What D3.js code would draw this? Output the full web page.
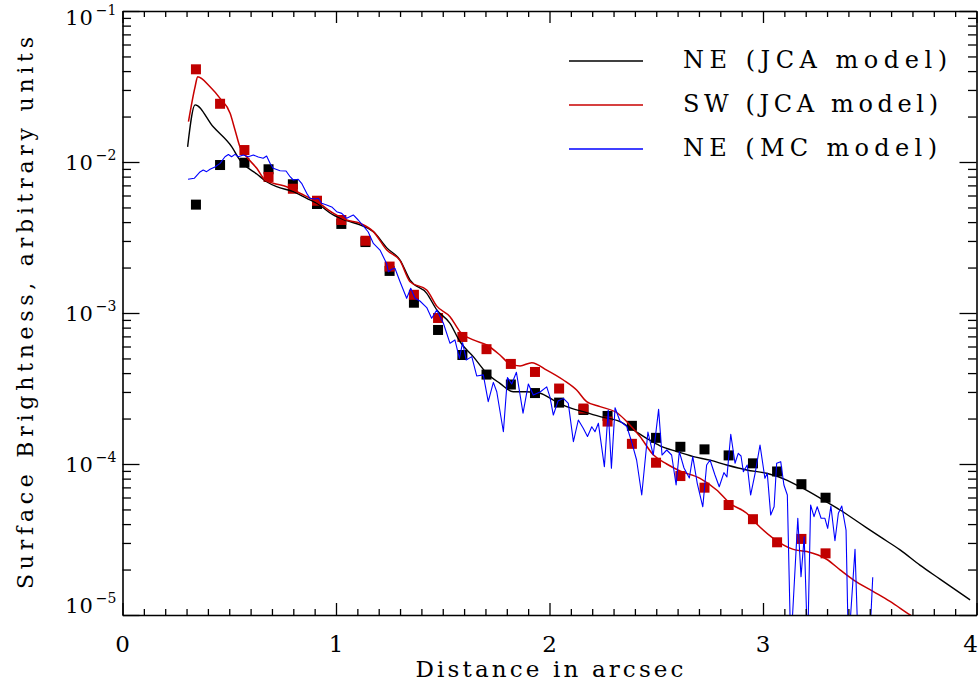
<!DOCTYPE html>
<html>
<head>
<meta charset="utf-8">
<script src="https://cdn.jsdelivr.net/npm/d3@7"></script>
<style>
	body { margin: 0; background: #fff; }
	svg { display: block; font-family: 'DejaVu Serif', 'Liberation Serif', serif; }
</style>
</head>
<body>
<svg id="chart"></svg>
<script>
/* global d3 */

// Radii (arcsec) of the measured profile points
const squareRadius = [ 0.344, 0.457, 0.571, 0.684, 0.798, 0.911, 1.025, 1.138, 1.251, 1.365, 1.478, 1.592, 1.705, 1.819, 1.932, 2.045, 2.159, 2.272, 2.386, 2.499, 2.613, 2.726, 2.839, 2.953, 3.066, 3.180, 3.293 ];

// Measured surface brightness, NE and SW sides
const neObserved = [ 5.22e-3, 9.55e-3, 9.89e-3, 8.95e-3, 7.12e-3, 5.27e-3, 3.89e-3, 2.95e-3, 1.90e-3, 1.17e-3, 7.72e-4, 5.27e-4, 3.91e-4, 3.36e-4, 2.95e-4, 2.55e-4, 2.28e-4, 2.08e-4, 1.79e-4, 1.49e-4, 1.30e-4, 1.25e-4, 1.14e-4, 1.01e-4, 8.92e-5, 7.35e-5, 5.98e-5 ];
const swObserved = [ 4.11e-2, 2.43e-2, 1.20e-2, 7.96e-3, 6.65e-3, 5.54e-3, 4.13e-3, 3.01e-3, 2.03e-3, 1.32e-3, 9.27e-4, 6.94e-4, 5.76e-4, 4.60e-4, 4.07e-4, 3.16e-4, 2.33e-4, 1.91e-4, 1.36e-4, 1.02e-4, 8.32e-5, 6.97e-5, 5.35e-5, 4.31e-5, 3.03e-5, 3.19e-5, 2.56e-5 ];

// Model curves as [ radius, brightness ]
const neJcaModel = [
	[ 0.305, 1.26e-2 ], [ 0.340, 2.39e-2 ], [ 0.425, 1.71e-2 ], [ 0.512, 1.26e-2 ], [ 0.550, 1.03e-2 ], [ 0.571, 9.55e-3 ],
	[ 0.629, 8.33e-3 ], [ 0.675, 7.40e-3 ], [ 0.722, 6.86e-3 ], [ 0.800, 6.36e-3 ], [ 0.863, 5.75e-3 ], [ 0.910, 5.33e-3 ],
	[ 0.987, 4.46e-3 ], [ 1.050, 4.09e-3 ], [ 1.112, 3.83e-3 ], [ 1.175, 3.46e-3 ], [ 1.238, 2.70e-3 ], [ 1.300, 2.24e-3 ],
	[ 1.347, 1.65e-3 ], [ 1.425, 1.35e-3 ], [ 1.472, 1.05e-3 ], [ 1.534, 8.55e-4 ], [ 1.581, 6.45e-4 ], [ 1.643, 5.14e-4 ],
	[ 1.706, 3.99e-4 ], [ 1.768, 3.42e-4 ], [ 1.830, 3.01e-4 ], [ 1.893, 3.01e-4 ], [ 1.956, 2.94e-4 ], [ 2.018, 2.65e-4 ],
	[ 2.081, 2.40e-4 ], [ 2.158, 2.22e-4 ], [ 2.237, 2.06e-4 ], [ 2.330, 1.91e-4 ], [ 2.393, 1.68e-4 ], [ 2.455, 1.48e-4 ],
	[ 2.518, 1.32e-4 ], [ 2.596, 1.21e-4 ], [ 2.674, 1.12e-4 ], [ 2.752, 1.06e-4 ], [ 2.830, 9.85e-5 ], [ 2.924, 9.13e-5 ],
	[ 3.017, 8.68e-5 ], [ 3.111, 7.83e-5 ], [ 3.173, 7.07e-5 ], [ 3.282, 5.78e-5 ], [ 3.361, 4.96e-5 ], [ 3.454, 4.05e-5 ],
	[ 3.548, 3.30e-5 ], [ 3.642, 2.70e-5 ], [ 3.735, 2.14e-5 ], [ 3.829, 1.73e-5 ], [ 3.970, 1.26e-5 ],
];

const swJcaModel = [
	[ 0.309, 1.85e-2 ], [ 0.340, 3.15e-2 ], [ 0.352, 3.67e-2 ], [ 0.410, 3.15e-2 ], [ 0.457, 2.64e-2 ], [ 0.504, 2.10e-2 ],
	[ 0.527, 1.63e-2 ], [ 0.550, 1.26e-2 ], [ 0.582, 1.08e-2 ], [ 0.629, 9.08e-3 ], [ 0.667, 7.60e-3 ], [ 0.706, 7.23e-3 ],
	[ 0.769, 6.86e-3 ], [ 0.831, 6.21e-3 ], [ 0.910, 5.46e-3 ], [ 0.987, 4.58e-3 ], [ 1.050, 4.13e-3 ], [ 1.112, 3.93e-3 ],
	[ 1.175, 3.46e-3 ], [ 1.238, 2.61e-3 ], [ 1.300, 2.22e-3 ], [ 1.347, 1.61e-3 ], [ 1.425, 1.42e-3 ], [ 1.472, 1.11e-3 ],
	[ 1.534, 9.45e-4 ], [ 1.581, 7.52e-4 ], [ 1.643, 6.63e-4 ], [ 1.706, 6.14e-4 ], [ 1.768, 5.27e-4 ], [ 1.815, 4.60e-4 ],
	[ 1.862, 4.46e-4 ], [ 1.917, 4.69e-4 ], [ 1.987, 4.19e-4 ], [ 2.065, 3.60e-4 ], [ 2.127, 3.09e-4 ], [ 2.174, 2.59e-4 ],
	[ 2.237, 2.40e-4 ], [ 2.321, 2.16e-4 ], [ 2.368, 1.87e-4 ], [ 2.424, 1.52e-4 ], [ 2.486, 1.15e-4 ], [ 2.549, 1.00e-4 ],
	[ 2.611, 8.99e-5 ], [ 2.705, 8.04e-5 ], [ 2.783, 6.73e-5 ], [ 2.845, 5.49e-5 ], [ 2.924, 4.72e-5 ], [ 2.971, 4.00e-5 ],
	[ 3.048, 3.22e-5 ], [ 3.142, 2.72e-5 ], [ 3.205, 2.63e-5 ], [ 3.298, 2.34e-5 ], [ 3.361, 1.99e-5 ], [ 3.423, 1.71e-5 ],
	[ 3.517, 1.43e-5 ], [ 3.595, 1.23e-5 ], [ 3.689, 1.00e-5 ], [ 3.735, 9.1e-6 ],
];

const neMcModel = [
	[ 0.307, 7.68e-3 ], [ 0.336, 7.80e-3 ], [ 0.363, 8.59e-3 ], [ 0.378, 8.85e-3 ], [ 0.394, 8.63e-3 ], [ 0.410, 8.95e-3 ],
	[ 0.433, 9.27e-3 ], [ 0.457, 9.80e-3 ], [ 0.480, 1.084e-2 ], [ 0.496, 1.121e-2 ], [ 0.511, 1.084e-2 ], [ 0.527, 1.124e-2 ],
	[ 0.542, 1.084e-2 ], [ 0.566, 1.113e-2 ], [ 0.589, 1.084e-2 ], [ 0.613, 1.113e-2 ], [ 0.636, 1.079e-2 ], [ 0.659, 1.058e-2 ],
	[ 0.675, 1.096e-2 ], [ 0.691, 9.80e-3 ], [ 0.706, 9.08e-3 ], [ 0.738, 8.76e-3 ], [ 0.766, 8.72e-3 ], [ 0.785, 7.99e-3 ],
	[ 0.800, 7.60e-3 ], [ 0.823, 7.68e-3 ], [ 0.839, 7.23e-3 ], [ 0.863, 6.20e-3 ], [ 0.878, 5.75e-3 ], [ 0.902, 5.69e-3 ],
	[ 0.917, 5.75e-3 ], [ 0.933, 5.33e-3 ], [ 0.956, 5.19e-3 ], [ 0.980, 5.04e-3 ], [ 1.003, 4.69e-3 ], [ 1.027, 4.57e-3 ],
	[ 1.050, 4.24e-3 ], [ 1.081, 4.46e-3 ], [ 1.104, 4.13e-3 ], [ 1.128, 3.77e-3 ], [ 1.151, 3.44e-3 ], [ 1.175, 2.89e-3 ],
	[ 1.206, 2.61e-3 ], [ 1.237, 2.13e-3 ], [ 1.245, 1.877e-3 ], [ 1.261, 1.947e-3 ], [ 1.276, 1.977e-3 ], [ 1.300, 1.612e-3 ],
	[ 1.331, 1.251e-3 ], [ 1.350, 1.457e-3 ], [ 1.370, 1.251e-3 ], [ 1.393, 1.201e-3 ], [ 1.425, 1.087e-3 ], [ 1.448, 9.22e-4 ],
	[ 1.472, 1.047e-3 ], [ 1.503, 8.55e-4 ], [ 1.534, 6.30e-4 ], [ 1.557, 6.63e-4 ], [ 1.578, 5.01e-4 ], [ 1.593, 6.36e-4 ],
	[ 1.610, 4.88e-4 ], [ 1.636, 5.14e-4 ], [ 1.659, 3.83e-4 ], [ 1.690, 3.89e-4 ], [ 1.713, 2.585e-4 ], [ 1.737, 3.47e-4 ],
	[ 1.753, 3.01e-4 ], [ 1.784, 1.636e-4 ], [ 1.803, 3.74e-4 ], [ 1.823, 3.39e-4 ], [ 1.845, 4.05e-4 ], [ 1.876, 2.17e-4 ],
	[ 1.901, 3.39e-4 ], [ 1.924, 2.86e-4 ], [ 1.956, 3.00e-4 ], [ 1.987, 3.24e-4 ], [ 2.002, 2.78e-4 ], [ 2.018, 2.11e-4 ],
	[ 2.040, 2.61e-4 ], [ 2.065, 2.72e-4 ], [ 2.088, 2.52e-4 ], [ 2.112, 1.405e-4 ], [ 2.135, 1.956e-4 ], [ 2.158, 1.723e-4 ],
	[ 2.178, 1.521e-4 ], [ 2.198, 1.766e-4 ], [ 2.213, 1.636e-4 ], [ 2.229, 1.860e-4 ], [ 2.257, 9.60e-5 ], [ 2.275, 2.28e-4 ],
	[ 2.290, 9.37e-5 ], [ 2.307, 2.36e-4 ], [ 2.330, 1.927e-4 ], [ 2.362, 1.771e-4 ], [ 2.385, 1.398e-4 ], [ 2.408, 1.063e-4 ],
	[ 2.432, 6.23e-5 ], [ 2.461, 1.629e-4 ], [ 2.486, 1.147e-4 ], [ 2.511, 2.30e-4 ], [ 2.527, 1.147e-4 ], [ 2.549, 1.238e-4 ],
	[ 2.572, 1.147e-4 ], [ 2.593, 7.26e-5 ], [ 2.608, 1.206e-4 ], [ 2.630, 9.41e-5 ], [ 2.655, 8.08e-5 ], [ 2.671, 1.118e-4 ],
	[ 2.692, 7.45e-5 ], [ 2.718, 5.21e-5 ], [ 2.736, 9.85e-5 ], [ 2.752, 1.063e-4 ], [ 2.775, 8.46e-5 ], [ 2.795, 7.07e-5 ],
	[ 2.817, 8.76e-5 ], [ 2.831, 8.20e-5 ], [ 2.849, 1.573e-4 ], [ 2.869, 1.011e-4 ], [ 2.884, 1.177e-4 ], [ 2.897, 1.130e-4 ],
	[ 2.908, 8.89e-5 ], [ 2.926, 9.85e-5 ], [ 2.942, 6.23e-5 ], [ 2.963, 8.68e-5 ], [ 2.986, 1.336e-4 ], [ 3.009, 8.04e-5 ],
	[ 3.020, 8.68e-5 ], [ 3.036, 4.60e-5 ], [ 3.052, 5.21e-5 ], [ 3.064, 1.011e-4 ], [ 3.083, 1.036e-4 ], [ 3.098, 7.26e-5 ],
	[ 3.114, 6.23e-5 ], [ 3.130, 6.0e-6 ], [ 3.163, 4.37e-5 ], [ 3.178, 1.793e-5 ], [ 3.193, 3.30e-5 ], [ 3.209, 6.0e-6 ],
	[ 3.223, 5.35e-5 ], [ 3.239, 4.48e-5 ], [ 3.254, 5.21e-5 ], [ 3.272, 4.37e-5 ], [ 3.290, 4.37e-5 ], [ 3.303, 3.75e-5 ],
	[ 3.318, 5.27e-5 ], [ 3.337, 3.10e-5 ], [ 3.353, 4.72e-5 ], [ 3.369, 5.27e-5 ], [ 3.389, 3.65e-5 ], [ 3.400, 6.0e-6 ],
	[ 3.431, 2.72e-5 ], [ 3.446, 6.0e-6 ], [ 3.498, 6.0e-6 ], [ 3.514, 1.777e-5 ],
];

// Axis ticks
const xMajorTicks = [ 0, 1, 2, 3, 4 ];
const xMinorTicks = [ 0.1, 0.2, 0.3, 0.4, 0.5, 0.6, 0.7, 0.8, 0.9, 1.1, 1.2, 1.3, 1.4, 1.5, 1.6, 1.7, 1.8, 1.9, 2.1, 2.2, 2.3, 2.4, 2.5, 2.6, 2.7, 2.8, 2.9, 3.1, 3.2, 3.3, 3.4, 3.5, 3.6, 3.7, 3.8, 3.9 ];
const yMajorTicks = [ 1e-1, 1e-2, 1e-3, 1e-4, 1e-5 ];
const yTickExponents = [ '−1', '−2', '−3', '−4', '−5' ];
const yMinorMantissas = [ 2, 3, 4, 5, 6, 7, 8, 9 ];

const legendLabels = [ 'NE (JCA model)', 'SW (JCA model)', 'NE (MC model)' ];
const legendColors = [ '#000000', '#c80000', '#0000ff' ];

/**
 * Log-scale surface brightness profile
 */
class BrightnessProfileChart {
	constructor( selector, config ) {
		this.selector = selector;
		this.config = config;

		this.initializeChart();
	}

	initializeChart() {
		this.createSVG();
		this.setupScales();
		this.renderObserved();
		this.renderModels();
		this.renderAxes();
		this.renderTickLabels();
		this.renderTitles();
		this.renderLegend();
	}

	createSVG() {
		const { width, height, margin } = this.config;

		this.innerWidth = width - margin.left - margin.right;
		this.innerHeight = height - margin.top - margin.bottom;

		this.svg = d3
			.select( this.selector )
			.attr( 'width', width )
			.attr( 'height', height );

		this.svg
			.append( 'defs' )
			.append( 'clipPath' )
			.attr( 'id', 'plot-clip' )
			.append( 'rect' )
			.attr( 'x', margin.left )
			.attr( 'y', margin.top )
			.attr( 'width', this.innerWidth )
			.attr( 'height', this.innerHeight );
	}

	setupScales() {
		const { margin } = this.config;

		this.xScale = d3
			.scaleLinear()
			.domain( [ 0, 4 ] )
			.range( [ margin.left, margin.left + this.innerWidth ] );

		this.yScale = d3
			.scaleLog()
			.domain( [ 1e-5, 1e-1 ] )
			.range( [ margin.top + this.innerHeight, margin.top ] );
	}

	renderObserved() {
		const size = 10;
		const plot = this.svg.append( 'g' ).attr( 'clip-path', 'url(#plot-clip)' );

		[ [ neObserved, '#000000' ], [ swObserved, '#c00000' ] ].forEach( ( [ values, color ] ) => {
			plot
				.append( 'g' )
				.selectAll( 'rect' )
				.data( values )
				.join( 'rect' )
				.attr( 'x', ( d, i ) => this.xScale( squareRadius[ i ] ) - size / 2 )
				.attr( 'y', ( d ) => this.yScale( d ) - size / 2 )
				.attr( 'width', size )
				.attr( 'height', size )
				.attr( 'fill', color );
		} );
	}

	renderModels() {
		const plot = this.svg.append( 'g' ).attr( 'clip-path', 'url(#plot-clip)' );

		const smoothLine = d3
			.line()
			.x( ( d ) => this.xScale( d[ 0 ] ) )
			.y( ( d ) => this.yScale( d[ 1 ] ) )
			.curve( d3.curveMonotoneX );

		const rawLine = d3
			.line()
			.x( ( d ) => this.xScale( d[ 0 ] ) )
			.y( ( d ) => this.yScale( d[ 1 ] ) );

		const models = [
			{ data: neJcaModel, color: legendColors[ 0 ], width: 1.4, gen: smoothLine },
			{ data: swJcaModel, color: legendColors[ 1 ], width: 1.5, gen: smoothLine },
			{ data: neMcModel, color: legendColors[ 2 ], width: 1.1, gen: rawLine },
		];

		models.forEach( ( m ) => {
			plot
				.append( 'path' )
				.datum( m.data )
				.attr( 'fill', 'none' )
				.attr( 'stroke', m.color )
				.attr( 'stroke-width', m.width )
				.attr( 'stroke-linejoin', 'round' )
				.attr( 'd', m.gen );
		} );
	}

	renderAxes() {
		const { margin } = this.config;
		const bottom = margin.top + this.innerHeight;
		const right = margin.left + this.innerWidth;

		const xAxes = [
			[ d3.axisBottom, `translate(0,${ bottom })` ],
			[ d3.axisTop, `translate(0,${ margin.top })` ],
		];
		const yAxes = [
			[ d3.axisLeft, `translate(${ margin.left },0)` ],
			[ d3.axisRight, `translate(${ right },0)` ],
		];

		const yMinorTicks = [];
		yMajorTicks.slice( 1 ).forEach( ( t ) => {
			yMinorMantissas.forEach( ( m ) => yMinorTicks.push( t * m ) );
		} );

		const styleAxis = ( g, withDomain ) => {
			g.selectAll( 'line' ).attr( 'stroke', '#000' ).attr( 'stroke-width', 1.3 );
			g.select( '.domain' )
				.attr( 'stroke', '#000' )
				.attr( 'stroke-width', 1.6 )
				.style( 'display', withDomain ? null : 'none' );
		};

		xAxes.forEach( ( [ axis, transform ] ) => {
			this.svg.append( 'g' ).attr( 'transform', transform )
				.call( axis( this.xScale ).tickValues( xMinorTicks ).tickSize( -6 ).tickFormat( '' ) )
				.call( ( g ) => styleAxis( g, false ) );
			this.svg.append( 'g' ).attr( 'transform', transform )
				.call( axis( this.xScale ).tickValues( xMajorTicks ).tickSizeInner( -12 ).tickSizeOuter( 0 ).tickFormat( '' ) )
				.call( ( g ) => styleAxis( g, true ) );
		} );

		yAxes.forEach( ( [ axis, transform ] ) => {
			this.svg.append( 'g' ).attr( 'transform', transform )
				.call( axis( this.yScale ).tickValues( yMinorTicks ).tickSize( -8.5 ).tickFormat( '' ) )
				.call( ( g ) => styleAxis( g, false ) );
			this.svg.append( 'g' ).attr( 'transform', transform )
				.call( axis( this.yScale ).tickValues( yMajorTicks ).tickSizeInner( -17 ).tickSizeOuter( 0 ).tickFormat( '' ) )
				.call( ( g ) => styleAxis( g, true ) );
		} );
	}

	renderTickLabels() {
		const { margin, width } = this.config;
		const bottom = margin.top + this.innerHeight;
		const lastTick = xMajorTicks[ xMajorTicks.length - 1 ];

		// the last label would run off the page, so it is pulled to the edge
		this.svg
			.append( 'g' )
			.selectAll( 'text' )
			.data( xMajorTicks )
			.join( 'text' )
			.attr( 'x', ( d ) => ( d === lastTick ? width - 1 : this.xScale( d ) ) )
			.attr( 'y', bottom + 37 )
			.attr( 'text-anchor', ( d ) => ( d === lastTick ? 'end' : 'middle' ) )
			.attr( 'font-size', 23 )
			.text( ( d ) => d );

		const labels = this.svg
			.append( 'g' )
			.selectAll( 'text' )
			.data( yMajorTicks )
			.join( 'text' )
			.attr( 'x', margin.left - 6 )
			.attr( 'y', ( d ) => Math.min( bottom - 2, Math.max( margin.top + 14, this.yScale( d ) + 8 ) ) )
			.attr( 'text-anchor', 'end' )
			.attr( 'font-size', 21 );

		labels.append( 'tspan' ).attr( 'letter-spacing', 1 ).text( '10' );
		labels
			.append( 'tspan' )
			.attr( 'dx', 2 )
			.attr( 'dy', -10 )
			.attr( 'font-size', 14 )
			.text( ( d, i ) => yTickExponents[ i ] );
	}

	renderTitles() {
		const { margin } = this.config;
		const bottom = margin.top + this.innerHeight;

		this.svg
			.append( 'text' )
			.attr( 'x', margin.left + this.innerWidth / 2 )
			.attr( 'y', bottom + 62 )
			.attr( 'text-anchor', 'middle' )
			.attr( 'font-size', 23 )
			.attr( 'textLength', 268 )
			.attr( 'lengthAdjust', 'spacing' )
			.text( 'Distance in arcsec' );

		this.svg
			.append( 'text' )
			.attr( 'transform', `translate(33,${ margin.top + this.innerHeight / 2 }) rotate(-90)` )
			.attr( 'text-anchor', 'middle' )
			.attr( 'font-size', 22 )
			.attr( 'textLength', 552 )
			.attr( 'lengthAdjust', 'spacing' )
			.text( 'Surface Brightness, arbitrary units' );
	}

	renderLegend() {
		const { legend } = this.config;
		const rowWidths = [ 264, 255, 254 ];

		const rows = this.svg
			.append( 'g' )
			.selectAll( 'g' )
			.data( legendLabels )
			.join( 'g' )
			.attr( 'transform', ( d, i ) => `translate(${ legend.x },${ legend.y + i * legend.step })` );

		rows
			.append( 'line' )
			.attr( 'x1', 0 )
			.attr( 'x2', legend.lineLength )
			.attr( 'y1', -7 )
			.attr( 'y2', -7 )
			.attr( 'stroke', ( d, i ) => legendColors[ i ] )
			.attr( 'stroke-width', 1.4 );

		rows
			.append( 'text' )
			.attr( 'x', legend.textOffset )
			.attr( 'font-size', 24 )
			.attr( 'textLength', ( d, i ) => rowWidths[ i ] )
			.attr( 'lengthAdjust', 'spacing' )
			.text( ( d ) => d );
	}
}

new BrightnessProfileChart( '#chart', {
	width: 979,
	height: 691,
	margin: { top: 11, right: 2.5, bottom: 76, left: 122.5 },
	legend: { x: 569, y: 68, step: 44, lineLength: 74, textOffset: 114 },
} );
</script>
</body>
</html>
